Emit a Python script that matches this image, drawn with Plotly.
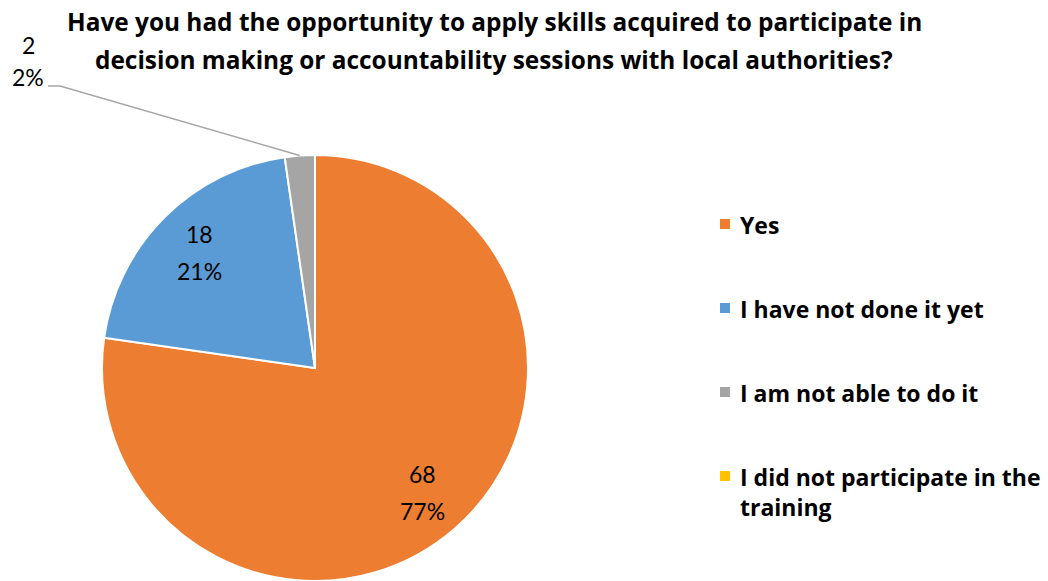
import math
import plotly.graph_objects as go

# Survey answers and counts
answers = ["Yes", "I have not done it yet", "I am not able to do it",
           "I did not participate in the training"]
counts = [68, 18, 2, 0]
pct_labels = ["77%", "21%", "2%", "0%"]
colors = ["#ED7D31", "#5B9BD5", "#A5A5A5", "#FFC000"]
legend_text = ["Yes", "I have not done it yet", "I am not able to do it",
               "I did not participate in the<br>training"]

title_lines = [
    "Have you had the opportunity to apply skills acquired to participate in",
    "decision making or accountability sessions with local authorities?",
]

W, H = 1048, 581
TITLE_FONT = "Open Sans"
LABEL_FONT = "Lato"

# pie geometry in pixels (centre and radius)
CX, CY, R = 315, 368, 213


def px(x, y):
    """pixel position (from top-left) -> paper coordinates"""
    return x / W, 1 - y / H


fig = go.Figure()
fig.add_trace(go.Pie(
    labels=answers,
    values=counts,
    sort=False,
    direction="clockwise",
    rotation=0,
    marker=dict(colors=colors, line=dict(color="white", width=2)),
    textinfo="none",
    hoverinfo="label+value+percent",
    showlegend=False,
    domain=dict(x=[(CX - R) / W, (CX + R) / W], y=[(H - CY - R) / H, (H - CY + R) / H]),
))

annotations = []
shapes = []

# title, two lines
for i, line in enumerate(title_lines):
    x, y = px(494, 21 + 38 * i)
    annotations.append(dict(x=x, y=y, xref="paper", yref="paper", text=f"<b>{line}</b>",
                            showarrow=False, xanchor="center", yanchor="middle",
                            font=dict(family=TITLE_FONT, size=24.4, color="#000")))

# slice mid-angles from the data
total = sum(counts)
cum = 0
mids = []
for v in counts:
    mids.append((cum + v / 2) / total * 2 * math.pi)
    cum += v


def on_pie(angle, frac):
    return CX + math.sin(angle) * R * frac, CY - math.cos(angle) * R * frac


# labels inside the two large slices
for i in (0, 1):
    lx, ly = on_pie(mids[i], 0.77)
    for j, t in enumerate([str(counts[i]), pct_labels[i]]):
        x, y = px(lx, ly - 18 + 37 * j)
        annotations.append(dict(x=x, y=y, xref="paper", yref="paper", text=t,
                                showarrow=False, xanchor="center", yanchor="middle",
                                font=dict(family=LABEL_FONT, size=23, color="#000")))

# small slice: label outside with a leader line
gx, gy = 28, 45
for j, t in enumerate([str(counts[2]), pct_labels[2]]):
    x, y = px(gx, gy + 32 * j)
    annotations.append(dict(x=x, y=y, xref="paper", yref="paper", text=t,
                            showarrow=False, xanchor="center", yanchor="middle",
                            font=dict(family=LABEL_FONT, size=23, color="#000")))
ex, ey = on_pie(mids[2], 1.0)
p0 = px(48, 86)
p1 = px(60, 86)
p2 = px(ex, ey)
shapes.append(dict(type="path", xref="paper", yref="paper",
                   path=f"M {p0[0]},{p0[1]} L {p1[0]},{p1[1]} L {p2[0]},{p2[1]}",
                   line=dict(color="#A6A6A6", width=1.5)))

# legend: colored squares and labels
leg_y = [224, 308, 392, 476]
for i, (txt, c) in enumerate(zip(legend_text, colors)):
    sx0, sy0 = px(720, leg_y[i] - 5)
    sx1, sy1 = px(730, leg_y[i] + 5)
    shapes.append(dict(type="rect", xref="paper", yref="paper",
                       x0=sx0, x1=sx1, y0=sy1, y1=sy0, fillcolor=c, line=dict(width=0)))
    x, y = px(738, leg_y[i] - 17)
    annotations.append(dict(x=x, y=y, xref="paper", yref="paper", text=f"<b>{txt}</b>",
                            showarrow=False, xanchor="left", yanchor="top", align="left",
                            font=dict(family=TITLE_FONT, size=23, color="#000")))

fig.update_layout(
    width=W, height=H,
    margin=dict(l=0, r=0, t=0, b=0),
    paper_bgcolor="white",
    plot_bgcolor="white",
    annotations=annotations,
    shapes=shapes,
)

fig.write_html("out.html")
